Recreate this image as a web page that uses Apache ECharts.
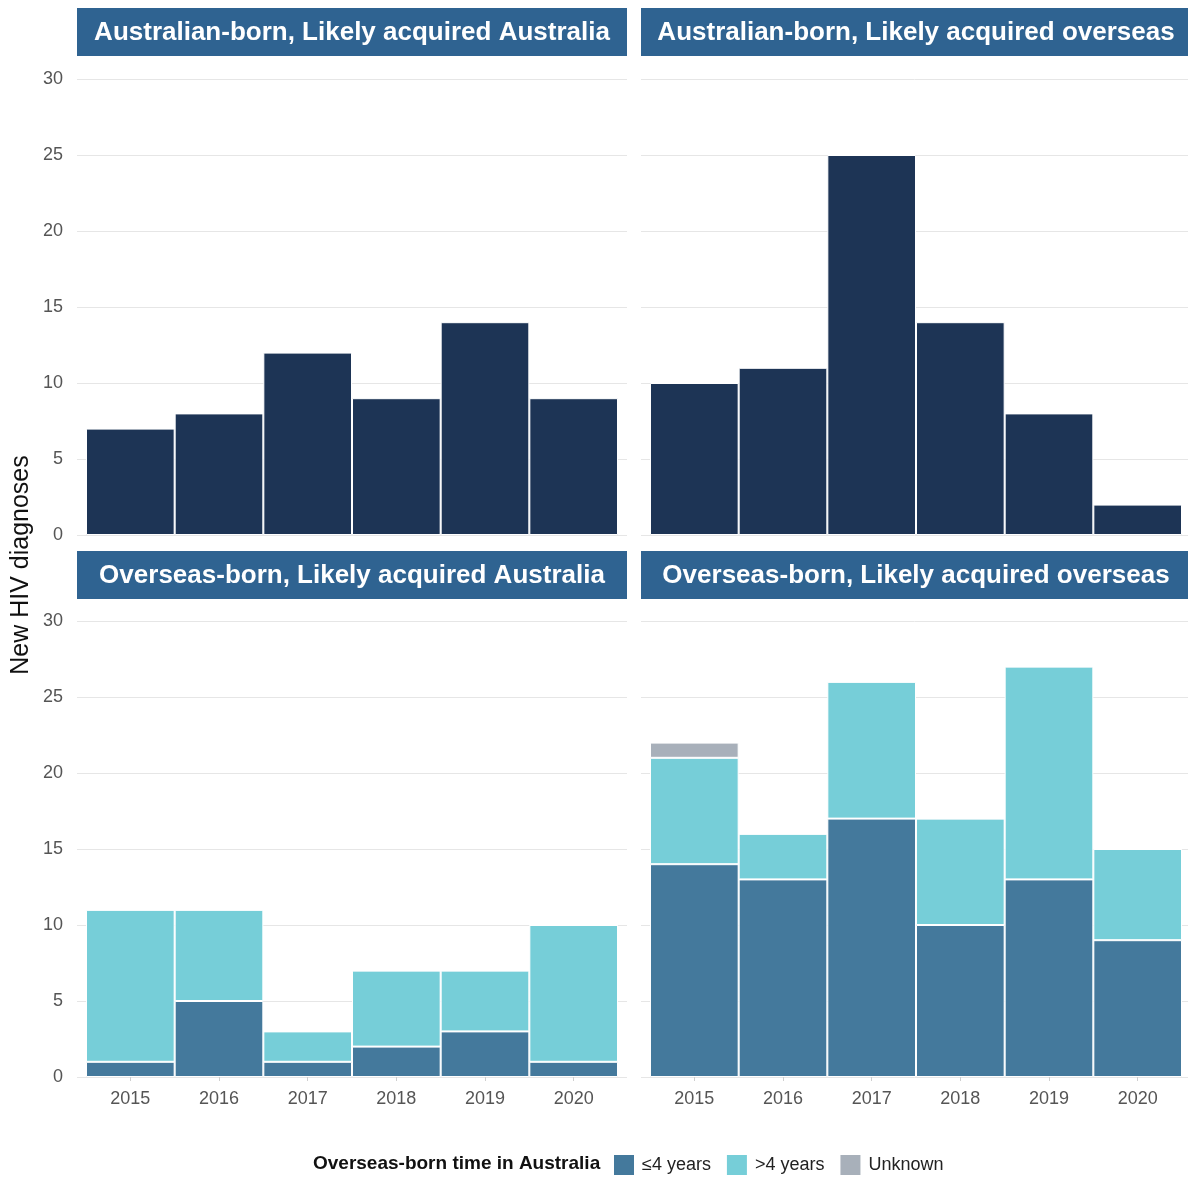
<!DOCTYPE html>
<html><head><meta charset="utf-8">
<script src="https://cdn.jsdelivr.net/npm/echarts@6/dist/echarts.min.js"></script>
<style>html,body{margin:0;padding:0;background:#fff}#c{width:1188px;height:1177px}</style>
</head><body><div id="c"></div>
<script>
const years = ['2015','2016','2017','2018','2019','2020'];
const yTicks = [0,5,10,15,20,25,30];
const panelTitles = ['Australian-born, Likely acquired Australia','Australian-born, Likely acquired overseas','Overseas-born, Likely acquired Australia','Overseas-born, Likely acquired overseas'];
const ausAcqAus = [7,8,12,9,14,9];
const ausAcqOver = [10,11,25,14,8,2];
const ovAcqAusLe4 = [1,5,1,2,3,1];
const ovAcqAusGt4 = [10,6,2,5,4,9];
const ovAcqAusUnk = [0,0,0,0,0,0];
const ovAcqOverLe4 = [14,13,17,10,13,9];
const ovAcqOverGt4 = [7,3,9,7,14,6];
const ovAcqOverUnk = [1,0,0,0,0,0];
const legendNames = ['≤4 years','>4 years','Unknown'];
const legendTitle = 'Overseas-born time in Australia';
const yTitle = 'New HIV diagnoses';

const C_NAVY='#1d3455', C_HEAD='#2f6391', C_LE4='#44799c', C_GT4='#76ced8', C_UNK='#a8b0ba';
const FONT='Liberation Sans, Arial, sans-serif';

const panels = [
  {x:77, top:79},
  {x:641, top:79},
  {x:77, top:621},
  {x:641, top:621}
];
const PW=550, PH=456, PAD=9;
const grids=[], xAxes=[], yAxes=[], series=[], graphics=[];
panels.forEach((p,i)=>{
  grids.push({left:p.x, top:p.top, width:PW, height:PH, containLabel:false});
  grids.push({left:p.x+PAD, top:p.top, width:PW-2*PAD, height:PH, containLabel:false});
  const bg=2*i, bar=2*i+1;
  xAxes.push({gridIndex:bg, type:'category', data:years, show:false});
  xAxes.push({gridIndex:bar, type:'category', data:years, boundaryGap:true,
    axisLine:{show:false}, axisTick:{show: i>=2, alignWithLabel:true, length:4, lineStyle:{color:'#cfcfcf'}},
    axisLabel:{show: i>=2, color:'#555', fontSize:18, fontFamily:FONT, margin:13}});
  yAxes.push({gridIndex:bg, type:'value', min:0, max:30, interval:5,
    axisLine:{show:false}, axisTick:{show:false},
    axisLabel:{show: i%2===0, color:'#555', fontSize:18, fontFamily:FONT, margin:14},
    splitLine:{show:true, lineStyle:{color:'#e6e6e6', width:1}}});
  yAxes.push({gridIndex:bar, type:'value', min:0, max:30, interval:5, show:false, splitLine:{show:false}});
  const hy = i<2 ? 8 : 551;
  graphics.push({type:'rect', shape:{x:p.x, y:hy, width:(i%2===0?550:547), height:48}, style:{fill:C_HEAD}});
  graphics.push({type:'text', x:p.x+275, y:hy+25, style:{text:panelTitles[i], fill:'#fff', font:'bold 26px '+FONT, textAlign:'center', textVerticalAlign:'middle'}});
});
const barStyle = c => ({color:c, borderColor:'#ffffff', borderWidth:1});
series.push({name:'Australian-born', type:'bar', xAxisIndex:1, yAxisIndex:1, data:ausAcqAus, barWidth:'100%', itemStyle:barStyle(C_NAVY), silent:true});
series.push({name:'Australian-born ', type:'bar', xAxisIndex:3, yAxisIndex:3, data:ausAcqOver, barWidth:'100%', itemStyle:barStyle(C_NAVY), silent:true});
const groups=[[5,ovAcqAusLe4,ovAcqAusGt4,ovAcqAusUnk,'a'],[7,ovAcqOverLe4,ovAcqOverGt4,ovAcqOverUnk,'b']];
groups.forEach(g=>{
  const [ax,le,gt,un,st]=g;
  [[legendNames[0],le,C_LE4],[legendNames[1],gt,C_GT4],[legendNames[2],un,C_UNK]].forEach(s=>{
    series.push({name:s[0], type:'bar', stack:st, xAxisIndex:ax, yAxisIndex:ax, data:s[1], barWidth:'100%', itemStyle:barStyle(s[2])});
  });
});
graphics.push({type:'text', x:313, y:1164, style:{text:legendTitle, fill:'#111', font:'bold 19px '+FONT, textVerticalAlign:'middle'}});
graphics.push({type:'text', x:21, y:565, rotation:Math.PI/2, style:{text:yTitle, fill:'#111', font:'25px '+FONT, textAlign:'center', textVerticalAlign:'middle'}});

const chart = echarts.init(document.getElementById('c'), null, {renderer:'canvas'});
chart.setOption({
  animation:false,
  backgroundColor:'#fff',
  grid:grids, xAxis:xAxes, yAxis:yAxes, series:series,
  legend:{data:legendNames, left:607, top:1148, itemWidth:22, itemHeight:22, itemGap:14,
    textStyle:{fontSize:18, color:'#222', fontFamily:FONT, padding:[0,0,0,2]}, icon:'rect', selectedMode:false},
  graphic:graphics
});
</script></body></html>
